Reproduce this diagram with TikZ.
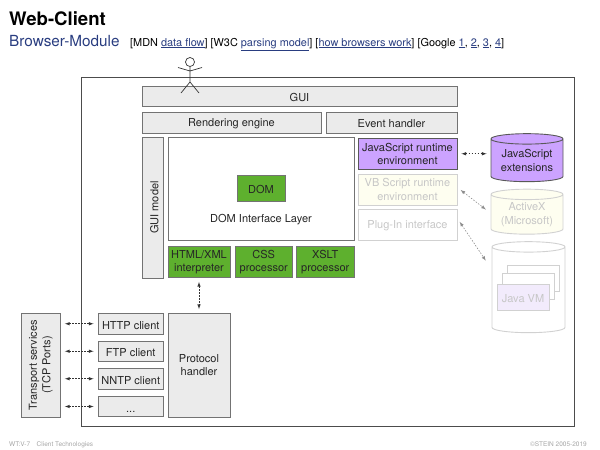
\documentclass[tikz,border=0pt]{standalone}
\usepackage{fontspec}
\setmainfont{TeX Gyre Heros}
\usetikzlibrary{shapes.geometric}
\definecolor{titleblue}{rgb}{0.16,0.24,0.50}
\definecolor{boxgrey}{rgb}{0.92,0.92,0.92}
\definecolor{lineg}{rgb}{0.45,0.45,0.45}
\definecolor{domgreen}{rgb}{0.37,0.69,0.18}
\definecolor{jspurple}{rgb}{0.80,0.64,1.00}
\definecolor{paleyellow}{rgb}{0.995,0.995,0.94}
\definecolor{paleline}{rgb}{0.82,0.82,0.82}
\definecolor{palepurple}{rgb}{0.95,0.92,0.99}
\newcommand{\weblink}[1]{\textcolor{titleblue}{\underline{#1}}}
\tikzset{
  base/.style={draw=lineg,line width=0.9pt,inner sep=0pt,align=center,text=black!85,
    font=\fontsize{11}{13.5}\selectfont,execute at begin node={\rule{0pt}{11pt}}},
  greybox/.style={base,fill=boxgrey},
  greenbox/.style={base,fill=domgreen},
  purplebox/.style={base,fill=jspurple,draw=black!65},
  fadedbox/.style={base,draw=paleline,text=black!22},
  dbshape/.style={cylinder,shape border rotate=90,aspect=0.2},
  flow/.style={latex-latex,dash pattern=on 1.5pt off 1.5pt,line width=0.6pt,
    shorten >=4pt,shorten <=4pt,black!80},
  fadedflow/.style={flow,black!45}
}
\begin{document}
\begin{tikzpicture}[x=1pt,y=-1pt]
\useasboundingbox (0,0) rectangle (600,450);

% Titles and references
\node[anchor=base west,inner sep=0pt,font=\fontsize{18.6}{20}\selectfont\bfseries] (title) at (9,25) {Web-Client};
\node[anchor=base west,inner sep=0pt,font=\fontsize{15.3}{17}\selectfont,text=titleblue] (subtitle) at (9,46) {Browser-Module};
\node[anchor=base west,inner sep=0pt,font=\fontsize{10.9}{12}\selectfont] (refs) at (130,46)
  {[MDN \weblink{data flow}] [W3C \weblink{parsing model}] [\weblink{how browsers work}] [Google \weblink{1}, \weblink{2}, \weblink{3}, \weblink{4}]};

% Outer frame
\node[draw=black!70,line width=1pt,minimum width=493pt,minimum height=349pt,inner sep=0pt] (frame) at (327.5,251.5) {};

% Upper row
\node[greybox,minimum width=315pt,minimum height=20pt] (gui) at (299.5,96) {GUI};
\node[greybox,minimum width=179pt,minimum height=21pt] (rendering) at (231.5,122.5) {Rendering engine};
\node[greybox,minimum width=131pt,minimum height=21pt] (event) at (391.5,122.5) {Event handler};
\node[greybox,rotate=90,minimum width=141pt,minimum height=21.5pt] (guimodel) at (153,207.5) {GUI model};

% DOM layer
\node[base,fill=white,minimum width=185.5pt,minimum height=102.5pt] (layer) at (261.25,188.75) {};
\node[greenbox,minimum width=48pt,minimum height=25.5pt] (dom) at (261,188.25) {DOM};
\node[inner sep=0pt,font=\fontsize{11}{13.5}\selectfont,text=black!85] (layertext) at (261,220) {DOM Interface Layer};

% Interpreters
\node[greenbox,minimum width=62pt,minimum height=31pt] (html) at (199,262) {HTML/XML\\interpreter};
\node[greenbox,minimum width=57.5pt,minimum height=31pt] (css) at (263.75,262) {CSS\\processor};
\node[greenbox,minimum width=57.5pt,minimum height=31pt] (xslt) at (325.25,262) {XSLT\\processor};

% Runtime boxes
\node[purplebox,minimum width=99pt,minimum height=30.5pt] (jsrun) at (407.5,153.75) {JavaScript runtime\\environment};
\node[fadedbox,fill=paleyellow,minimum width=99pt,minimum height=31pt] (vbrun) at (407.5,189.5) {VB Script runtime\\environment};
\node[fadedbox,minimum width=99pt,minimum height=31pt] (plugin) at (407.5,224.5) {Plug-In interface};

% Cylinders
\node[base,dbshape,fill=jspurple,draw=black!65,minimum width=72pt,minimum height=48pt] (jsext) at (527,160.5) {JavaScript\\extensions};
\node[fadedbox,dbshape,fill=paleyellow,minimum width=72pt,minimum height=45pt] (activex) at (527,214.5) {ActiveX\\(Microsoft)};
\node[fadedbox,dbshape,fill=white,minimum width=73pt,minimum height=91pt] (javacyl) at (528.5,290) {\phantom{JavaScript}\\\phantom{extensions}};
\coordinate (activexin) at (489,212);
\coordinate (javain) at (488,264);

% Java VM stack
\node[fadedbox,fill=white,minimum width=52pt,minimum height=26pt] (vmback) at (533,278) {};
\node[fadedbox,fill=white,minimum width=52pt,minimum height=26pt] (vmmid) at (528,286) {};
\node[fadedbox,fill=palepurple,minimum width=52pt,minimum height=26pt] (vmfront) at (523,297) {Java VM};

% Protocol clients
\node[greybox,minimum width=65.5pt,minimum height=20.5pt] (http) at (130.75,323.75) {HTTP client};
\node[greybox,minimum width=65.5pt,minimum height=20.5pt] (ftp) at (130.75,351.25) {FTP client};
\node[greybox,minimum width=65.5pt,minimum height=20.5pt] (nntp) at (130.75,378.75) {NNTP client};
\node[greybox,minimum width=65.5pt,minimum height=20.5pt] (dots) at (130.75,406.5) {...};
\node[greybox,minimum width=62pt,minimum height=103.5pt] (protocol) at (199,365.25) {Protocol\\handler};
\node[greybox,rotate=90,minimum width=104pt,minimum height=39.5pt] (transport) at (40.75,365) {Transport services\\(TCP Ports)};

% Connectors
\draw[flow] (html) -- (protocol);
\draw[flow] (jsrun.east) -- (jsrun.east -| jsext.west);
\draw[fadedflow] ([yshift=2pt]vbrun.east) -- (activexin);
\draw[fadedflow] ([yshift=6pt]plugin.east) -- (javain);
\draw[flow] (transport.south |- http) -- (http);
\draw[flow] (transport.south |- ftp) -- (ftp);
\draw[flow] (transport.south |- nntp) -- (nntp);
\draw[flow] (transport.south |- dots) -- (dots);

% Stick figure
\node[circle,draw=black!80,line width=0.7pt,fill=white,minimum size=9pt,inner sep=0pt] (head) at (190,62) {};
\coordinate (neck) at (190,71);
\coordinate (hip) at (190,82);
\coordinate (armleft) at (178,67.5);
\coordinate (armright) at (202,67.5);
\coordinate (footleft) at (181,93);
\coordinate (footright) at (199,93);
\draw[line width=0.7pt,black!80] (head) -- (hip) (armleft) -- (neck) -- (armright) (footleft) -- (hip) -- (footright);

% Footer
\node[anchor=base west,inner sep=0pt,font=\fontsize{6.5}{8}\selectfont,text=black!35] (footerleft) at (9,446) {WT:V-7\quad Client Technologies};
\node[anchor=base east,inner sep=0pt,font=\fontsize{6.5}{8}\selectfont,text=black!35] (footerright) at (587,446) {©STEIN 2005-2019};
\end{tikzpicture}
\end{document}
